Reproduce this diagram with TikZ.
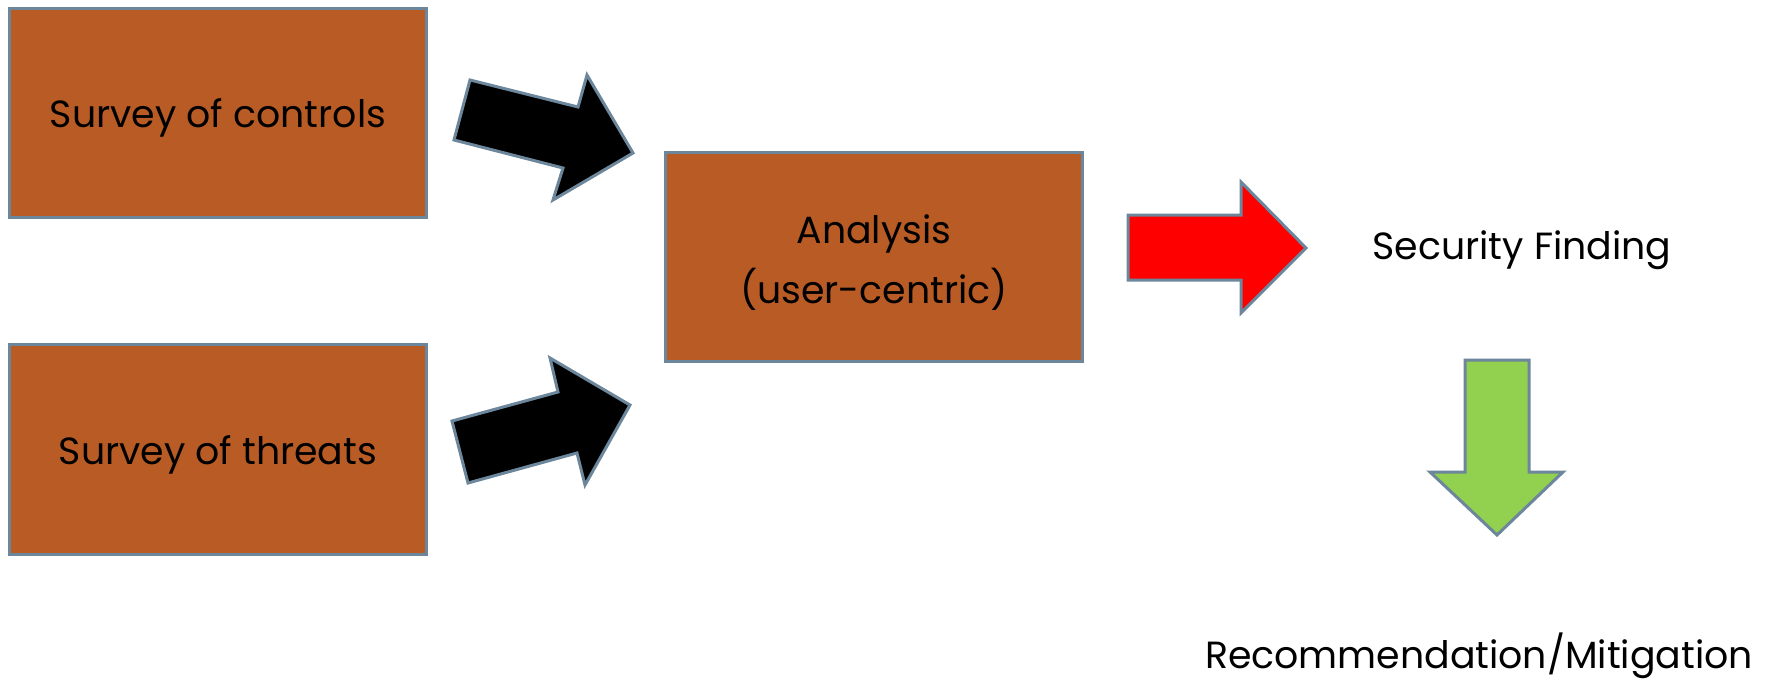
\documentclass[tikz,border=0pt]{standalone}
\usepackage{fontspec}
\setmainfont{Poppins}
\begin{document}
\begin{tikzpicture}[x=1bp,y=-1bp,
  edge/.style={draw=edgeblue,line width=3bp,line join=miter},
  block/.style={edge,fill=rust,minimum width=417bp,minimum height=209bp,inner sep=0pt,anchor=north west},
  lbl/.style={font=\fontsize{38}{60}\selectfont,text=black,align=center,inner sep=0pt}]
\definecolor{edgeblue}{RGB}{108,134,155}
\definecolor{rust}{RGB}{185,91,36}
\definecolor{leaf}{RGB}{146,208,80}
\useasboundingbox (0,0) rectangle (1769,680);

% input boxes and the analysis box
\node[block] (controls) at (8,7) {};
\node[block,minimum height=210bp] (threats) at (8,343) {};
\node[block] (analysis) at (664,151) {};
\node[lbl] (tcontrols) at ([yshift=-5bp]controls.center) {Survey of controls};
\node[lbl] (tthreats) at ([yshift=-5bp]threats.center) {Survey of threats};
\node[lbl] (tanalysis) at ([yshift=-6bp]analysis.center) {Analysis\\(user-centric)};

% result labels
\node[lbl,anchor=center] (finding) at (1522,250) {Security Finding};
\node[lbl,anchor=center] (mitig) at (1479,656) {Recommendation/Mitigation};

% block arrows
\path[edge,fill=black] (470,80) -- (578,107) -- (587,75) -- (633,153) -- (553,200) -- (563,168) -- (454,140) -- cycle;
\path[edge,fill=black] (452,421) -- (558,392) -- (550,358) -- (630,405) -- (585,485) -- (577,453) -- (468,483) -- cycle;
\path[edge,fill=red] (1128,215) -- (1241,215) -- (1241,182) -- (1306,248) -- (1241,313) -- (1241,280) -- (1128,280) -- cycle;
\path[edge,fill=leaf] (1465,360) -- (1529,360) -- (1529,472) -- (1563,472) -- (1497,535) -- (1430,472) -- (1465,472) -- cycle;
\end{tikzpicture}
\end{document}
